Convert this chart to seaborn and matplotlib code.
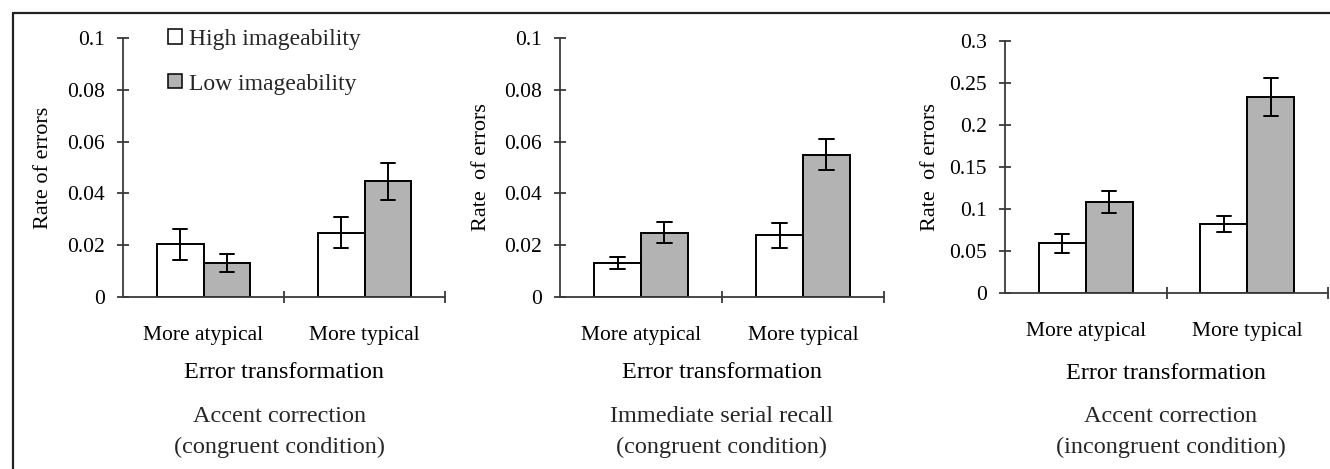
import matplotlib
matplotlib.use("Agg")
import matplotlib.pyplot as plt
import seaborn as sns
import pandas as pd
from matplotlib.patches import Patch
from matplotlib.lines import Line2D

# ---------------- data ----------------
categories = ["More atypical", "More typical"]
groups = ["High imageability", "Low imageability"]

p1_high = [0.0203, 0.0249]
p1_high_err = [0.0060, 0.0060]
p1_low = [0.0132, 0.0446]
p1_low_err = [0.0034, 0.0072]

p2_high = [0.0132, 0.0239]
p2_high_err = [0.0024, 0.0048]
p2_low = [0.0249, 0.0550]
p2_low_err = [0.0039, 0.0061]

p3_high = [0.0590, 0.0816]
p3_high_err = [0.0113, 0.0095]
p3_low = [0.1078, 0.2326]
p3_low_err = [0.0130, 0.0226]

yticks_12 = [0, 0.02, 0.04, 0.06, 0.08, 0.1]
yticklabels_12 = ["0", "0.02", "0.04", "0.06", "0.08", "0.1"]
yticks_3 = [0, 0.05, 0.1, 0.15, 0.2, 0.25, 0.3]
yticklabels_3 = ["0", "0.05", "0.1", "0.15", "0.2", "0.25", "0.3"]

ylabels = ["Rate of errors", "Rate  of errors", "Rate  of errors"]
xlabel = "Error transformation"
titles = ["Accent correction\n(congruent condition)",
          "Immediate serial recall\n(congruent condition)",
          "Accent correction\n(incongruent condition)"]


def make_df(high, high_err, low, low_err):
    rows = []
    for vals, errs, g in ((high, high_err, groups[0]), (low, low_err, groups[1])):
        for c, v, e in zip(categories, vals, errs):
            rows.append({"cat": c, "grp": g, "rate": v - e})
            rows.append({"cat": c, "grp": g, "rate": v + e})
    return pd.DataFrame(rows)


panels = [
    (make_df(p1_high, p1_high_err, p1_low, p1_low_err), yticks_12, yticklabels_12),
    (make_df(p2_high, p2_high_err, p2_low, p2_low_err), yticks_12, yticklabels_12),
    (make_df(p3_high, p3_high_err, p3_low, p3_low_err), yticks_3, yticklabels_3),
]

# ---------------- style ----------------
sns.set_theme(style="ticks")
plt.rcParams["font.family"] = ["Liberation Serif", "DejaVu Serif"]

W, H = 1330, 469
fig = plt.figure(figsize=(W / 100, H / 100), dpi=100)

# axes boxes in pixels: left, right, top, bottom
boxes = [(123, 445, 38, 297), (560, 884, 38, 297), (1005, 1328, 40.7, 293)]
palette = {groups[0]: "#ffffff", groups[1]: "#b3b3b3"}
axis_color = "#3a3a3a"

label_x = [-0.246, -0.242, -0.232]
title_x = [0.485, 0.5, 0.513]

for i, ((df, yt, ytl), (l, r, t, b)) in enumerate(zip(panels, boxes)):
    ax = fig.add_axes([l / W, (H - b) / H, (r - l) / W, (b - t) / H])
    sns.barplot(data=df, x="cat", y="rate", hue="grp", order=categories,
                hue_order=groups, palette=palette, estimator="mean",
                errorbar=lambda v: (v.min(), v.max()), width=0.58,
                capsize=0.175, edgecolor="black", linewidth=1.4,
                err_kws={"color": "black", "linewidth": 1.4},
                legend=False, ax=ax)
    ax.set_xlim(-0.5, 1.5)
    ax.set_ylim(yt[0], yt[-1])
    ax.set_yticks(yt)
    ax.set_yticklabels(ytl)
    for s in ("top", "right"):
        ax.spines[s].set_visible(False)
    for s in ("left", "bottom"):
        ax.spines[s].set_color(axis_color)
        ax.spines[s].set_linewidth(1.3)
    ax.tick_params(axis="y", direction="inout", length=8.5, width=1.3,
                   color=axis_color, pad=9, labelsize=15.5, labelcolor="black")
    ax.set_xticks([0, 1])
    ax.set_xticklabels(categories)
    ax.set_xticks([0.5, 1.5], minor=True)
    ax.tick_params(axis="x", which="major", length=0, pad=21, labelsize=15.5,
                   labelcolor="black")
    ax.tick_params(axis="x", which="minor", direction="inout", length=8.5,
                   width=1.3, color=axis_color)
    ax.set_ylabel(ylabels[i], fontsize=16, color="black")
    ax.yaxis.label.set_va("center")
    ax.yaxis.set_label_coords(label_x[i], 0.5)
    ax.set_xlabel(xlabel, fontsize=17.5, color="black")
    ax.xaxis.label.set_va("center")
    ax.xaxis.set_label_coords(0.5, (b - 373) / (b - t))
    ax.text(title_x[i], (b - 432) / (b - t), titles[i], transform=ax.transAxes,
            ha="center", va="center", fontsize=17.5, linespacing=1.62)
    ax.set_facecolor("none")

    if i == 0:
        handles = [Patch(facecolor=palette[g], edgecolor="black", linewidth=1.1)
                   for g in groups]
        ax.legend(handles, groups, loc="upper left",
                  bbox_to_anchor=(0.14, 1.035), frameon=False, fontsize=17,
                  handlelength=0.6, handleheight=0.55, handletextpad=0.3,
                  labelspacing=1.0, borderaxespad=0, borderpad=0)

# partial frame round the figure (top and left edges)
fig.add_artist(Line2D([13 / W, 1.0], [1 - 13 / H, 1 - 13 / H],
                      color="#222222", linewidth=1.6))
fig.add_artist(Line2D([13 / W, 13 / W], [0, 1 - 13 / H],
                      color="#222222", linewidth=1.6))

fig.savefig("out.png", dpi=100, facecolor="white")
